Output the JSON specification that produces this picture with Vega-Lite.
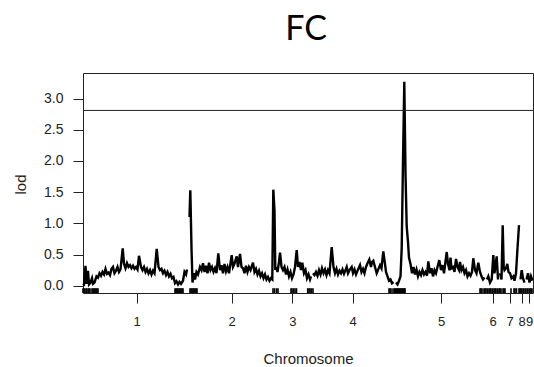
{
  "$schema": "https://vega.github.io/schema/vega-lite/v6.json",
  "width": 450,
  "height": 220,
  "autosize": {"type": "none"},
  "padding": {"left": 83, "top": 73, "right": 1, "bottom": 74},
  "background": "white",
  "config": {
    "view": {"stroke": "#222", "strokeWidth": 1},
    "font": "Liberation Sans",
    "axisY": {
      "domain": false, "grid": false,
      "tickSize": 10, "tickColor": "#222",
      "labelFont": "Liberation Sans", "labelFontSize": 14, "labelColor": "#222",
      "labelPadding": 10, "labelOverlap": false, "labelFlush": false, "labelBound": false,
      "titleFont": "Liberation Sans", "titleFontSize": 15, "titleFontWeight": "normal", "titleColor": "#222"
    }
  },
  "title": {
    "text": "FC",
    "font": "Lato",
    "fontSize": 34,
    "fontWeight": "normal",
    "color": "#000",
    "anchor": "middle",
    "frame": "group",
    "baseline": "alphabetic",
    "offset": 0,
    "dx": -2,
    "dy": 1
  },
  "datasets": {
    "scan": [
      {"chr": 1, "pos": 0, "lod": 0.03}, {"chr": 1, "pos": 1, "lod": 0.02}, {"chr": 1, "pos": 2.5, "lod": 0.32}, {"chr": 1, "pos": 3.5, "lod": 0.03},
      {"chr": 1, "pos": 5, "lod": 0.24}, {"chr": 1, "pos": 6, "lod": 0.02}, {"chr": 1, "pos": 7.5, "lod": 0.05}, {"chr": 1, "pos": 9, "lod": 0.12},
      {"chr": 1, "pos": 10, "lod": 0.03}, {"chr": 1, "pos": 11.5, "lod": 0.05}, {"chr": 1, "pos": 13.5, "lod": 0.15}, {"chr": 1, "pos": 15, "lod": 0.13},
      {"chr": 1, "pos": 16.5, "lod": 0.2}, {"chr": 1, "pos": 18, "lod": 0.16}, {"chr": 1, "pos": 19.5, "lod": 0.22}, {"chr": 1, "pos": 21, "lod": 0.18},
      {"chr": 1, "pos": 22.5, "lod": 0.27}, {"chr": 1, "pos": 24, "lod": 0.19}, {"chr": 1, "pos": 25.5, "lod": 0.21}, {"chr": 1, "pos": 27, "lod": 0.17},
      {"chr": 1, "pos": 28.5, "lod": 0.27}, {"chr": 1, "pos": 30, "lod": 0.3}, {"chr": 1, "pos": 31.5, "lod": 0.2}, {"chr": 1, "pos": 33, "lod": 0.24},
      {"chr": 1, "pos": 34.5, "lod": 0.3}, {"chr": 1, "pos": 36, "lod": 0.22}, {"chr": 1, "pos": 37.5, "lod": 0.26}, {"chr": 1, "pos": 39.7, "lod": 0.6},
      {"chr": 1, "pos": 41, "lod": 0.35}, {"chr": 1, "pos": 42.5, "lod": 0.28}, {"chr": 1, "pos": 44, "lod": 0.36}, {"chr": 1, "pos": 45.5, "lod": 0.3},
      {"chr": 1, "pos": 47, "lod": 0.33}, {"chr": 1, "pos": 48.5, "lod": 0.28}, {"chr": 1, "pos": 50, "lod": 0.32}, {"chr": 1, "pos": 51.5, "lod": 0.27},
      {"chr": 1, "pos": 53, "lod": 0.3}, {"chr": 1, "pos": 54.5, "lod": 0.26}, {"chr": 1, "pos": 56, "lod": 0.48}, {"chr": 1, "pos": 58, "lod": 0.3},
      {"chr": 1, "pos": 59.5, "lod": 0.25}, {"chr": 1, "pos": 61, "lod": 0.3}, {"chr": 1, "pos": 62.5, "lod": 0.22}, {"chr": 1, "pos": 64, "lod": 0.27},
      {"chr": 1, "pos": 65.5, "lod": 0.2}, {"chr": 1, "pos": 67, "lod": 0.25}, {"chr": 1, "pos": 68.5, "lod": 0.18}, {"chr": 1, "pos": 70, "lod": 0.24},
      {"chr": 1, "pos": 71.5, "lod": 0.2}, {"chr": 1, "pos": 73.7, "lod": 0.59}, {"chr": 1, "pos": 75.5, "lod": 0.3}, {"chr": 1, "pos": 77, "lod": 0.25},
      {"chr": 1, "pos": 78.5, "lod": 0.27}, {"chr": 1, "pos": 80, "lod": 0.2}, {"chr": 1, "pos": 81.5, "lod": 0.24}, {"chr": 1, "pos": 83, "lod": 0.17},
      {"chr": 1, "pos": 84.5, "lod": 0.22}, {"chr": 1, "pos": 86, "lod": 0.15}, {"chr": 1, "pos": 87.5, "lod": 0.19}, {"chr": 1, "pos": 89, "lod": 0.12},
      {"chr": 1, "pos": 90.5, "lod": 0.14}, {"chr": 1, "pos": 92, "lod": 0.04}, {"chr": 1, "pos": 93.5, "lod": 0.07}, {"chr": 1, "pos": 95, "lod": 0.02},
      {"chr": 1, "pos": 96.5, "lod": 0.06}, {"chr": 1, "pos": 98, "lod": 0.03}, {"chr": 1, "pos": 100, "lod": 0.08}, {"chr": 1, "pos": 101.5, "lod": 0.22},
      {"chr": 1, "pos": 103, "lod": 0.18}, {"chr": 1, "pos": 104, "lod": 0.26},
      {"chr": 2, "pos": 106.5, "lod": 1.1}, {"chr": 2, "pos": 107.3, "lod": 1.53}, {"chr": 2, "pos": 108.5, "lod": 0.6}, {"chr": 2, "pos": 109.5, "lod": 0.05},
      {"chr": 2, "pos": 111, "lod": 0.2}, {"chr": 2, "pos": 112, "lod": 0.1}, {"chr": 2, "pos": 113.5, "lod": 0.22}, {"chr": 2, "pos": 115, "lod": 0.18},
      {"chr": 2, "pos": 117, "lod": 0.3}, {"chr": 2, "pos": 118.5, "lod": 0.25}, {"chr": 2, "pos": 120, "lod": 0.36}, {"chr": 2, "pos": 121.5, "lod": 0.22},
      {"chr": 2, "pos": 123, "lod": 0.32}, {"chr": 2, "pos": 124.5, "lod": 0.2}, {"chr": 2, "pos": 126, "lod": 0.37}, {"chr": 2, "pos": 127.5, "lod": 0.25},
      {"chr": 2, "pos": 129, "lod": 0.3}, {"chr": 2, "pos": 130.5, "lod": 0.22}, {"chr": 2, "pos": 132, "lod": 0.28}, {"chr": 2, "pos": 133.5, "lod": 0.2},
      {"chr": 2, "pos": 135.3, "lod": 0.52}, {"chr": 2, "pos": 137, "lod": 0.25}, {"chr": 2, "pos": 138.5, "lod": 0.33}, {"chr": 2, "pos": 140, "lod": 0.2},
      {"chr": 2, "pos": 141.5, "lod": 0.35}, {"chr": 2, "pos": 143, "lod": 0.23}, {"chr": 2, "pos": 144.5, "lod": 0.3}, {"chr": 2, "pos": 146, "lod": 0.2},
      {"chr": 2, "pos": 148.7, "lod": 0.49}, {"chr": 2, "pos": 150, "lod": 0.3}, {"chr": 2, "pos": 151.5, "lod": 0.35}, {"chr": 2, "pos": 153.7, "lod": 0.47},
      {"chr": 2, "pos": 155, "lod": 0.3}, {"chr": 2, "pos": 157, "lod": 0.51}, {"chr": 2, "pos": 158.5, "lod": 0.3}, {"chr": 2, "pos": 160, "lod": 0.28},
      {"chr": 2, "pos": 161.5, "lod": 0.2}, {"chr": 2, "pos": 163, "lod": 0.32}, {"chr": 2, "pos": 164.5, "lod": 0.22}, {"chr": 2, "pos": 166, "lod": 0.3},
      {"chr": 2, "pos": 167.5, "lod": 0.25}, {"chr": 2, "pos": 170, "lod": 0.37}, {"chr": 2, "pos": 171.5, "lod": 0.22}, {"chr": 2, "pos": 173, "lod": 0.27},
      {"chr": 2, "pos": 174.5, "lod": 0.18}, {"chr": 2, "pos": 176, "lod": 0.24}, {"chr": 2, "pos": 177.5, "lod": 0.15}, {"chr": 2, "pos": 179, "lod": 0.2},
      {"chr": 2, "pos": 180.5, "lod": 0.12}, {"chr": 2, "pos": 182, "lod": 0.18}, {"chr": 2, "pos": 183.5, "lod": 0.1}, {"chr": 2, "pos": 185, "lod": 0.14},
      {"chr": 2, "pos": 186.5, "lod": 0.08}, {"chr": 2, "pos": 188, "lod": 0.12}, {"chr": 2, "pos": 189.3, "lod": 0.1}, {"chr": 2, "pos": 190.3, "lod": 1.54},
      {"chr": 2, "pos": 191.5, "lod": 1.2}, {"chr": 2, "pos": 192.3, "lod": 0.25},
      {"chr": 3, "pos": 193, "lod": 0.3}, {"chr": 3, "pos": 194.5, "lod": 0.22}, {"chr": 3, "pos": 196, "lod": 0.38}, {"chr": 3, "pos": 197, "lod": 0.53},
      {"chr": 3, "pos": 198.5, "lod": 0.3}, {"chr": 3, "pos": 200, "lod": 0.25}, {"chr": 3, "pos": 201.5, "lod": 0.3}, {"chr": 3, "pos": 203, "lod": 0.18},
      {"chr": 3, "pos": 204.5, "lod": 0.26}, {"chr": 3, "pos": 206, "lod": 0.15}, {"chr": 3, "pos": 207.5, "lod": 0.22}, {"chr": 3, "pos": 209, "lod": 0.12},
      {"chr": 3, "pos": 210.5, "lod": 0.18}, {"chr": 3, "pos": 212, "lod": 0.3}, {"chr": 3, "pos": 213.7, "lod": 0.57}, {"chr": 3, "pos": 215, "lod": 0.3},
      {"chr": 3, "pos": 216.5, "lod": 0.38}, {"chr": 3, "pos": 218, "lod": 0.25}, {"chr": 3, "pos": 219.3, "lod": 0.37}, {"chr": 3, "pos": 221, "lod": 0.2},
      {"chr": 3, "pos": 222.5, "lod": 0.25}, {"chr": 3, "pos": 224, "lod": 0.12}, {"chr": 3, "pos": 225.5, "lod": 0.18}, {"chr": 3, "pos": 227, "lod": 0.1},
      {"chr": 3, "pos": 228, "lod": 0.15},
      {"chr": 4, "pos": 230, "lod": 0.2}, {"chr": 4, "pos": 231.5, "lod": 0.17}, {"chr": 4, "pos": 233, "lod": 0.22}, {"chr": 4, "pos": 234.5, "lod": 0.16},
      {"chr": 4, "pos": 236, "lod": 0.25}, {"chr": 4, "pos": 237.5, "lod": 0.18}, {"chr": 4, "pos": 239, "lod": 0.28}, {"chr": 4, "pos": 240.5, "lod": 0.2},
      {"chr": 4, "pos": 242, "lod": 0.26}, {"chr": 4, "pos": 243.5, "lod": 0.17}, {"chr": 4, "pos": 245, "lod": 0.25}, {"chr": 4, "pos": 246.5, "lod": 0.2},
      {"chr": 4, "pos": 248.7, "lod": 0.62}, {"chr": 4, "pos": 250.5, "lod": 0.3}, {"chr": 4, "pos": 252, "lod": 0.2}, {"chr": 4, "pos": 253.5, "lod": 0.27},
      {"chr": 4, "pos": 255, "lod": 0.18}, {"chr": 4, "pos": 256.5, "lod": 0.24}, {"chr": 4, "pos": 258, "lod": 0.2}, {"chr": 4, "pos": 259.5, "lod": 0.26},
      {"chr": 4, "pos": 261, "lod": 0.19}, {"chr": 4, "pos": 263.7, "lod": 0.3}, {"chr": 4, "pos": 265, "lod": 0.2}, {"chr": 4, "pos": 266.5, "lod": 0.25},
      {"chr": 4, "pos": 268.7, "lod": 0.3}, {"chr": 4, "pos": 270, "lod": 0.2}, {"chr": 4, "pos": 271.5, "lod": 0.26}, {"chr": 4, "pos": 273, "lod": 0.18},
      {"chr": 4, "pos": 274.5, "lod": 0.24}, {"chr": 4, "pos": 277, "lod": 0.33}, {"chr": 4, "pos": 278.5, "lod": 0.22}, {"chr": 4, "pos": 280, "lod": 0.27},
      {"chr": 4, "pos": 281.5, "lod": 0.2}, {"chr": 4, "pos": 283, "lod": 0.3}, {"chr": 4, "pos": 284.5, "lod": 0.36}, {"chr": 4, "pos": 286.3, "lod": 0.42},
      {"chr": 4, "pos": 288, "lod": 0.3}, {"chr": 4, "pos": 289, "lod": 0.38}, {"chr": 4, "pos": 290.3, "lod": 0.4}, {"chr": 4, "pos": 292, "lod": 0.3},
      {"chr": 4, "pos": 293.7, "lod": 0.2}, {"chr": 4, "pos": 295, "lod": 0.25}, {"chr": 4, "pos": 297, "lod": 0.33}, {"chr": 4, "pos": 298.5, "lod": 0.28},
      {"chr": 4, "pos": 300.3, "lod": 0.55}, {"chr": 4, "pos": 302, "lod": 0.35}, {"chr": 4, "pos": 303, "lod": 0.22}, {"chr": 4, "pos": 304.5, "lod": 0.15},
      {"chr": 4, "pos": 306, "lod": 0.08}, {"chr": 4, "pos": 307.5, "lod": 0.1}, {"chr": 4, "pos": 309, "lod": 0.04}, {"chr": 4, "pos": 310.5, "lod": 0.06},
      {"chr": 5, "pos": 313, "lod": 0.05}, {"chr": 5, "pos": 314.5, "lod": 0.02}, {"chr": 5, "pos": 316, "lod": 0.08}, {"chr": 5, "pos": 317.5, "lod": 0.15},
      {"chr": 5, "pos": 318.7, "lod": 0.6}, {"chr": 5, "pos": 320, "lod": 2.0}, {"chr": 5, "pos": 321.3, "lod": 3.27}, {"chr": 5, "pos": 322.5, "lod": 1.8},
      {"chr": 5, "pos": 323.7, "lod": 0.95}, {"chr": 5, "pos": 325, "lod": 0.7}, {"chr": 5, "pos": 326, "lod": 0.45}, {"chr": 5, "pos": 327.5, "lod": 0.35},
      {"chr": 5, "pos": 329, "lod": 0.2}, {"chr": 5, "pos": 330.5, "lod": 0.3}, {"chr": 5, "pos": 332, "lod": 0.18}, {"chr": 5, "pos": 333.5, "lod": 0.26},
      {"chr": 5, "pos": 335, "lod": 0.15}, {"chr": 5, "pos": 336.5, "lod": 0.22}, {"chr": 5, "pos": 338, "lod": 0.17}, {"chr": 5, "pos": 339.5, "lod": 0.25},
      {"chr": 5, "pos": 341, "lod": 0.18}, {"chr": 5, "pos": 342.5, "lod": 0.22}, {"chr": 5, "pos": 344, "lod": 0.16}, {"chr": 5, "pos": 345.3, "lod": 0.39},
      {"chr": 5, "pos": 347, "lod": 0.2}, {"chr": 5, "pos": 348.5, "lod": 0.28}, {"chr": 5, "pos": 350, "lod": 0.15}, {"chr": 5, "pos": 351.5, "lod": 0.25},
      {"chr": 5, "pos": 353, "lod": 0.2}, {"chr": 5, "pos": 354.5, "lod": 0.3}, {"chr": 5, "pos": 356.3, "lod": 0.41}, {"chr": 5, "pos": 358, "lod": 0.25},
      {"chr": 5, "pos": 359.5, "lod": 0.33}, {"chr": 5, "pos": 361, "lod": 0.2}, {"chr": 5, "pos": 363.7, "lod": 0.54}, {"chr": 5, "pos": 365, "lod": 0.35},
      {"chr": 5, "pos": 366.5, "lod": 0.25}, {"chr": 5, "pos": 367.5, "lod": 0.45}, {"chr": 5, "pos": 368.5, "lod": 0.28}, {"chr": 5, "pos": 370, "lod": 0.3},
      {"chr": 5, "pos": 371.5, "lod": 0.22}, {"chr": 5, "pos": 373, "lod": 0.43}, {"chr": 5, "pos": 374.5, "lod": 0.3}, {"chr": 5, "pos": 376, "lod": 0.25},
      {"chr": 5, "pos": 377, "lod": 0.38}, {"chr": 5, "pos": 378.5, "lod": 0.25}, {"chr": 5, "pos": 380, "lod": 0.3}, {"chr": 5, "pos": 381.5, "lod": 0.2},
      {"chr": 5, "pos": 383, "lod": 0.25}, {"chr": 5, "pos": 384.5, "lod": 0.15}, {"chr": 5, "pos": 386, "lod": 0.2}, {"chr": 5, "pos": 387.5, "lod": 0.16},
      {"chr": 5, "pos": 389, "lod": 0.22}, {"chr": 5, "pos": 390.3, "lod": 0.44}, {"chr": 5, "pos": 392, "lod": 0.25}, {"chr": 5, "pos": 393.5, "lod": 0.2},
      {"chr": 5, "pos": 395.3, "lod": 0.37}, {"chr": 5, "pos": 397, "lod": 0.22}, {"chr": 5, "pos": 398.5, "lod": 0.15}, {"chr": 5, "pos": 400, "lod": 0.1},
      {"chr": 5, "pos": 401.5, "lod": 0.13},
      {"chr": 6, "pos": 404, "lod": 0.1}, {"chr": 6, "pos": 405.3, "lod": 0.15}, {"chr": 6, "pos": 407, "lod": 0.05}, {"chr": 6, "pos": 408.7, "lod": 0.1},
      {"chr": 6, "pos": 410.3, "lod": 0.49}, {"chr": 6, "pos": 411.5, "lod": 0.2}, {"chr": 6, "pos": 412.3, "lod": 0.3}, {"chr": 6, "pos": 413.7, "lod": 0.47},
      {"chr": 6, "pos": 415, "lod": 0.1},
      {"chr": 7, "pos": 417, "lod": 0.2}, {"chr": 7, "pos": 418.5, "lod": 0.1}, {"chr": 7, "pos": 419.7, "lod": 0.97}, {"chr": 7, "pos": 420.7, "lod": 0.3},
      {"chr": 7, "pos": 421.5, "lod": 0.25}, {"chr": 7, "pos": 423, "lod": 0.28}, {"chr": 7, "pos": 424.3, "lod": 0.35}, {"chr": 7, "pos": 425.5, "lod": 0.22},
      {"chr": 7, "pos": 427, "lod": 0.2}, {"chr": 7, "pos": 428.5, "lod": 0.12}, {"chr": 7, "pos": 430.3, "lod": 0.15}, {"chr": 7, "pos": 431.5, "lod": 0.08},
      {"chr": 7, "pos": 433, "lod": 0.2}, {"chr": 7, "pos": 434.5, "lod": 0.6}, {"chr": 7, "pos": 436, "lod": 0.97},
      {"chr": 8, "pos": 437.5, "lod": 0.1}, {"chr": 8, "pos": 438.7, "lod": 0.25}, {"chr": 8, "pos": 440, "lod": 0.12}, {"chr": 8, "pos": 441.5, "lod": 0.05},
      {"chr": 9, "pos": 443.5, "lod": 0.1}, {"chr": 9, "pos": 445, "lod": 0.2}, {"chr": 9, "pos": 446.5, "lod": 0.05}, {"chr": 9, "pos": 448, "lod": 0.15},
      {"chr": 9, "pos": 449.5, "lod": 0.08}
    ],
    "markers": [
      {"pos": 0}, {"pos": 1}, {"pos": 2}, {"pos": 3.5}, {"pos": 5}, {"pos": 6}, {"pos": 7}, {"pos": 9}, {"pos": 10}, {"pos": 11}, {"pos": 12}, {"pos": 13}, {"pos": 14}, {"pos": 15},
      {"pos": 92}, {"pos": 93}, {"pos": 94}, {"pos": 95}, {"pos": 96}, {"pos": 97}, {"pos": 98}, {"pos": 99}, {"pos": 100},
      {"pos": 107}, {"pos": 108}, {"pos": 109}, {"pos": 110}, {"pos": 111}, {"pos": 112}, {"pos": 113}, {"pos": 114},
      {"pos": 190}, {"pos": 191.5}, {"pos": 193.5}, {"pos": 195},
      {"pos": 208}, {"pos": 209}, {"pos": 210.5}, {"pos": 212}, {"pos": 213.5},
      {"pos": 224.7}, {"pos": 226}, {"pos": 227}, {"pos": 228.5}, {"pos": 230},
      {"pos": 306}, {"pos": 307}, {"pos": 308}, {"pos": 310}, {"pos": 311.5}, {"pos": 312.5}, {"pos": 313.5}, {"pos": 314.5}, {"pos": 315.5}, {"pos": 316.5}, {"pos": 317.5}, {"pos": 318.5}, {"pos": 319.5}, {"pos": 320.5}, {"pos": 321.5}, {"pos": 322},
      {"pos": 397}, {"pos": 398}, {"pos": 399}, {"pos": 401}, {"pos": 402}, {"pos": 403}, {"pos": 404.5}, {"pos": 406}, {"pos": 407}, {"pos": 408}, {"pos": 409.5}, {"pos": 411}, {"pos": 412}, {"pos": 413}, {"pos": 414.5}, {"pos": 416}, {"pos": 417}, {"pos": 418}, {"pos": 420}, {"pos": 421}, {"pos": 422},
      {"pos": 428}, {"pos": 431}, {"pos": 432}, {"pos": 433.5}, {"pos": 436}, {"pos": 437}, {"pos": 438}, {"pos": 439}, {"pos": 440.5}, {"pos": 442}, {"pos": 443}, {"pos": 444.5}, {"pos": 446}, {"pos": 447}, {"pos": 448}, {"pos": 449}
    ],
    "threshold": [{"lod": 2.81}]
  },
  "layer": [
    {
      "data": {"name": "scan"},
      "mark": {"type": "line", "color": "#000", "strokeWidth": 2.4, "strokeJoin": "miter"},
      "encoding": {
        "x": {
          "field": "pos", "type": "quantitative",
          "scale": {"domain": [0, 450], "nice": false, "zero": false},
          "axis": {
            "title": "Chromosome",
            "values": [53.7, 148.7, 209.3, 269.7, 358, 409.7, 426.5, 438.5, 446],
            "labelExpr": "datum.value < 100 ? '1' : datum.value < 180 ? '2' : datum.value < 240 ? '3' : datum.value < 300 ? '4' : datum.value < 380 ? '5' : datum.value < 420 ? '6' : datum.value < 435 ? '7' : datum.value < 442 ? '8' : '9'",
            "domain": false, "grid": false,
            "tickSize": 10, "tickColor": "#222",
            "labelFont": "Liberation Sans", "labelFontSize": 13, "labelColor": "#222",
            "labelPadding": 12, "labelOverlap": false, "labelFlush": false, "labelBound": false,
            "titleFont": "Liberation Sans", "titleFontSize": 15, "titleFontWeight": "normal", "titleColor": "#222",
            "titleBaseline": "alphabetic", "titleY": 70
          }
        },
        "y": {
          "field": "lod", "type": "quantitative",
          "scale": {"domain": [-0.117, 3.41], "nice": false, "zero": false},
          "axis": {
            "title": "lod",
            "values": [0, 0.5, 1, 1.5, 2, 2.5, 3],
            "tickCount": 7,
            "format": ".1f",
            "titleAngle": 270, "titleAlign": "center", "titleBaseline": "middle",
            "titleX": -63, "titleY": 111
          }
        },
        "detail": {"field": "chr", "type": "nominal"}
      }
    },
    {
      "data": {"name": "threshold"},
      "mark": {"type": "rule", "color": "#222", "strokeWidth": 1},
      "encoding": {
        "y": {
          "field": "lod", "type": "quantitative",
          "axis": {
            "title": "lod",
            "values": [0, 0.5, 1, 1.5, 2, 2.5, 3],
            "tickCount": 7,
            "format": ".1f",
            "titleAngle": 270, "titleAlign": "center", "titleBaseline": "middle",
            "titleX": -63, "titleY": 111
          }
        }
      }
    },
    {
      "data": {"name": "markers"},
      "mark": {"type": "rule", "color": "#000", "strokeWidth": 1.6},
      "encoding": {
        "x": {"field": "pos", "type": "quantitative"},
        "y": {
          "datum": -0.117, "type": "quantitative",
          "axis": {
            "title": "lod",
            "values": [0, 0.5, 1, 1.5, 2, 2.5, 3],
            "tickCount": 7,
            "format": ".1f",
            "titleAngle": 270, "titleAlign": "center", "titleBaseline": "middle",
            "titleX": -63, "titleY": 111
          }
        },
        "y2": {"datum": -0.04}
      }
    }
  ]
}
